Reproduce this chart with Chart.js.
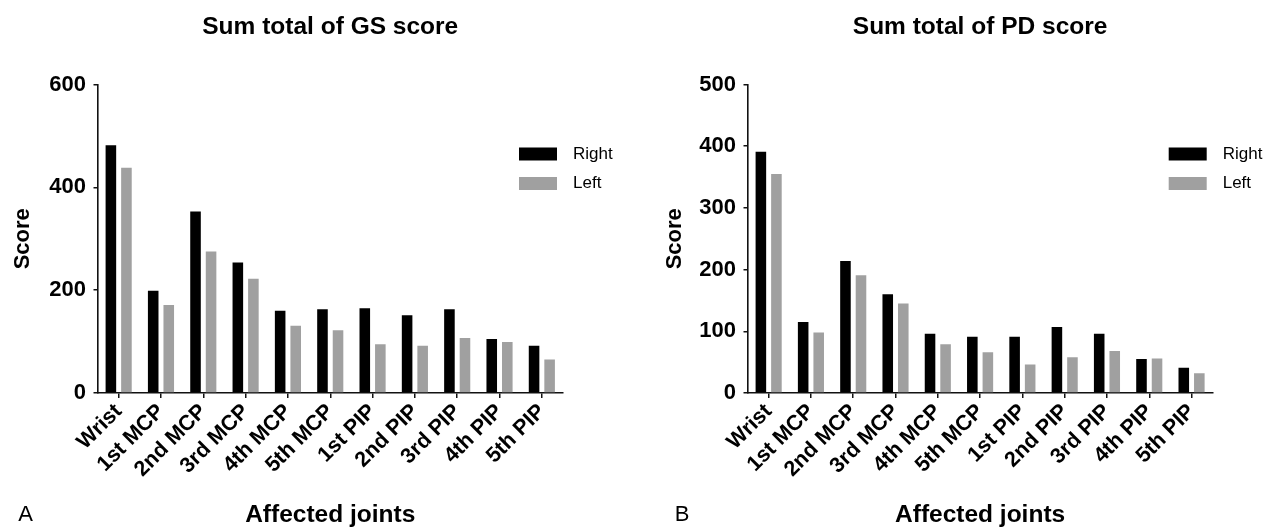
<!DOCTYPE html>
<html>
<head>
<meta charset="utf-8">
<script src="https://cdn.jsdelivr.net/npm/chart.js@4.4.1/dist/chart.umd.min.js"></script>
<style>
  html, body { margin: 0; padding: 0; background: #fff; }
  #wrap { position: relative; width: 1267px; height: 530px; overflow: hidden; }
  canvas { position: absolute; top: 0; }
  #cA { left: 0; }
  #cB { left: 640px; }
</style>
</head>
<body>
<div id="wrap">
  <canvas id="cA" width="640" height="530"></canvas>
  <canvas id="cB" width="627" height="530"></canvas>
</div>
<script>
// ---- data ----
const categories = ['Wrist', '1st MCP', '2nd MCP', '3rd MCP', '4th MCP', '5th MCP',
                    '1st PIP', '2nd PIP', '3rd PIP', '4th PIP', '5th PIP'];
const seriesNames = ['Right', 'Left'];
const gsRight = [482, 199, 353, 254, 160, 163, 165, 151, 163, 105, 92];
const gsLeft  = [438, 171, 275, 222, 131, 122, 95, 92, 107, 99, 65];
const pdRight = [391, 115, 214, 160, 96, 91, 91, 107, 96, 55, 41];
const pdLeft  = [355, 98, 191, 145, 79, 66, 46, 58, 68, 56, 32];
const gsTitle = 'Sum total of GS score';
const pdTitle = 'Sum total of PD score';
const yTitle = 'Score';
const xTitle = 'Affected joints';

const FONT = '"Liberation Sans", Arial, Helvetica, sans-serif';
const colorRight = '#000000';
const colorLeft = '#a0a0a0';
const axisColor = '#111111';

const extras = {
  id: 'extras',
  afterDraw(chart, args, opts) {
    const { ctx, chartArea } = chart;
    ctx.save();
    chart.data.datasets.forEach((d, i) => {
      const cy = chartArea.top + opts.legendTop + i * opts.legendGap;
      const bx = chartArea.right - opts.legendRight;
      ctx.fillStyle = d.backgroundColor;
      ctx.fillRect(bx, cy - 6.5, 38, 13);
      ctx.fillStyle = '#000';
      ctx.font = '17px ' + FONT;
      ctx.textBaseline = 'middle';
      ctx.textAlign = 'left';
      ctx.fillText(d.label, bx + 54, cy);
    });
    ctx.fillStyle = '#000';
    ctx.font = '22px ' + FONT;
    ctx.textAlign = 'center';
    ctx.textBaseline = 'middle';
    ctx.fillText(opts.letter, opts.letterX, 515);
    ctx.restore();
  }
};

function makeChart(id, title, rightVals, leftVals, yMax, yStep, cfg) {
  return new Chart(document.getElementById(id), {
    type: 'bar',
    data: {
      labels: categories,
      datasets: [
        { label: seriesNames[0], data: rightVals, backgroundColor: colorRight, borderWidth: 0 },
        { label: seriesNames[1], data: leftVals, backgroundColor: colorLeft, borderWidth: 0 }
      ]
    },
    options: {
      responsive: false,
      animation: false,
      categoryPercentage: 0.735,
      barPercentage: 0.68,
      layout: { padding: { left: 0, right: cfg.padRight, top: 0, bottom: 0 } },
      plugins: {
        legend: { display: false },
        tooltip: { enabled: false },
        title: {
          display: true,
          text: title,
          fullSize: false,
          color: '#000',
          font: { family: FONT, size: 24.5, weight: 'bold', lineHeight: 1.2 },
          padding: { top: 12.3, bottom: 42.8 }
        },
        extras: { legendTop: 69.5, legendGap: 29.5, legendRight: 44, letter: cfg.letter, letterX: cfg.letterX }
      },
      scales: {
        x: {
          offset: true,
          grid: { display: true, drawOnChartArea: false, drawTicks: true, tickLength: 5, offset: false, color: axisColor, lineWidth: 1.5 },
          border: { display: true, color: axisColor, width: 1.6 },
          ticks: {
            color: '#000',
            font: { family: FONT, size: 21.5, weight: 'bold' },
            minRotation: 45, maxRotation: 45,
            padding: 1,
            autoSkip: false
          },
          title: {
            display: true, text: xTitle, color: '#000',
            font: { family: FONT, size: 24.5, weight: 'bold', lineHeight: 1.2 },
            padding: { top: 0, bottom: 0.3 }
          },
          afterFit(scale) { scale.height = 137; }
        },
        y: {
          min: 0, max: yMax,
          grid: { display: true, drawOnChartArea: false, drawTicks: true, tickLength: 4, color: axisColor, lineWidth: 1.5 },
          border: { display: true, color: axisColor, width: 1.6 },
          ticks: {
            stepSize: yStep,
            color: '#000',
            padding: 7.5,
            font: { family: FONT, size: 22, weight: 'bold' }
          },
          title: {
            display: true, text: yTitle, color: '#000',
            font: { family: FONT, size: 22, weight: 'bold', lineHeight: 1.2 },
            padding: { top: cfg.yTitlePad, bottom: 0 }
          },
          afterFit(scale) { scale.width = cfg.yWidth; }
        }
      }
    },
    plugins: [extras]
  });
}

makeChart('cA', gsTitle, gsRight, gsLeft, 600, 200,
  { padRight: 77, yWidth: 97.5, yTitlePad: 9.3, letter: 'A', letterX: 25.5 });
makeChart('cB', pdTitle, pdRight, pdLeft, 500, 100,
  { padRight: 54.3, yWidth: 107.5, yTitlePad: 21.8, letter: 'B', letterX: 42 });
</script>
</body>
</html>
